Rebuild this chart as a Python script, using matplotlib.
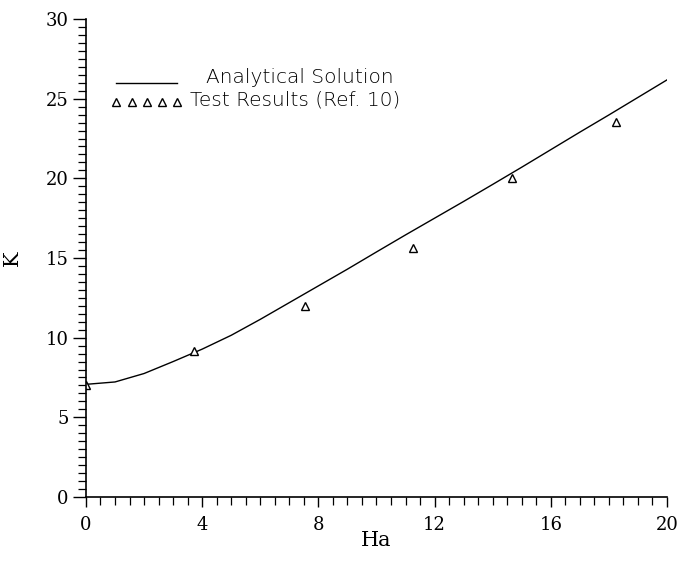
import matplotlib.pyplot as plt
from matplotlib.lines import Line2D
from matplotlib.ticker import MultipleLocator

# analytical solution
ha_line = [0, 1, 2, 3, 4, 5, 6, 7, 8, 9, 10, 11, 12, 13, 14, 15, 16, 17, 18, 19, 20]
k_line = [7.07, 7.22, 7.75, 8.5, 9.28, 10.15, 11.15, 12.2, 13.25, 14.3, 15.38,
          16.45, 17.5, 18.55, 19.62, 20.7, 21.8, 22.9, 23.98, 25.08, 26.18]

# test results (Ref. 10)
ha_test = [0.0, 3.73, 7.54, 11.27, 14.65, 18.23]
k_test = [7.05, 9.18, 12.0, 15.6, 20.0, 23.56]

labels = ['Analytical Solution', 'Test Results (Ref. 10)']

fig = plt.figure(figsize=(6.78, 5.61), dpi=100)
ax = fig.add_axes([0.1268, 0.1141, 0.857, 0.852])

ln, = ax.plot(ha_line, k_line, color='black', lw=1.0)
pts, = ax.plot(ha_test, k_test, ls='none', marker='^', ms=6, mfc='white', mec='black',
               mew=1.0)

ax.set_xlim(0, 20)
ax.set_ylim(0, 30)
for s in ['top', 'right']:
    ax.spines[s].set_visible(False)
ax.spines['left'].set_linewidth(1.2)
ax.spines['bottom'].set_linewidth(1.2)

ax.xaxis.set_major_locator(MultipleLocator(4))
ax.xaxis.set_minor_locator(MultipleLocator(0.5))
ax.yaxis.set_major_locator(MultipleLocator(5))
ax.yaxis.set_minor_locator(MultipleLocator(0.5))
ax.tick_params(axis='y', which='major', length=9.5, width=1.0, direction='out', pad=3)
ax.tick_params(axis='y', which='minor', length=6, width=0.9, direction='out')
ax.tick_params(axis='x', which='major', length=7.5, width=1.0, direction='out', pad=6)
ax.tick_params(axis='x', which='minor', length=5.5, width=0.9, direction='out')

for lab in ax.get_xticklabels() + ax.get_yticklabels():
    lab.set_fontfamily('DejaVu Serif')
    lab.set_fontsize(13)

ax.set_xlabel('Ha', fontfamily='DejaVu Serif', fontsize=15, labelpad=-2)
ax.set_ylabel('K', fontfamily='DejaVu Serif', fontsize=15, labelpad=17)

# legend: handles from the legend, text placed next to them
h1 = Line2D([], [], color='black', lw=1.0)
h2 = Line2D([], [], ls='none', marker='^', ms=5.5, mfc='white', mec='black', mew=1.0)
ax.legend([h1, h2], [' ', ' '], loc='upper left', bbox_to_anchor=(0.045, 0.879),
          frameon=False, fontsize=10, handlelength=5.0, handleheight=1.3,
          numpoints=5, handletextpad=0, labelspacing=0.25, borderpad=0,
          borderaxespad=0)
ax.text(0.2065, 0.8667, labels[0], transform=ax.transAxes, fontsize=14.5,
        fontweight='light', va='baseline', ha='left')
ax.text(0.179, 0.8201, labels[1], transform=ax.transAxes, fontsize=14.5,
        fontweight='light', va='baseline', ha='left')

fig.savefig('out.png', dpi=100)
